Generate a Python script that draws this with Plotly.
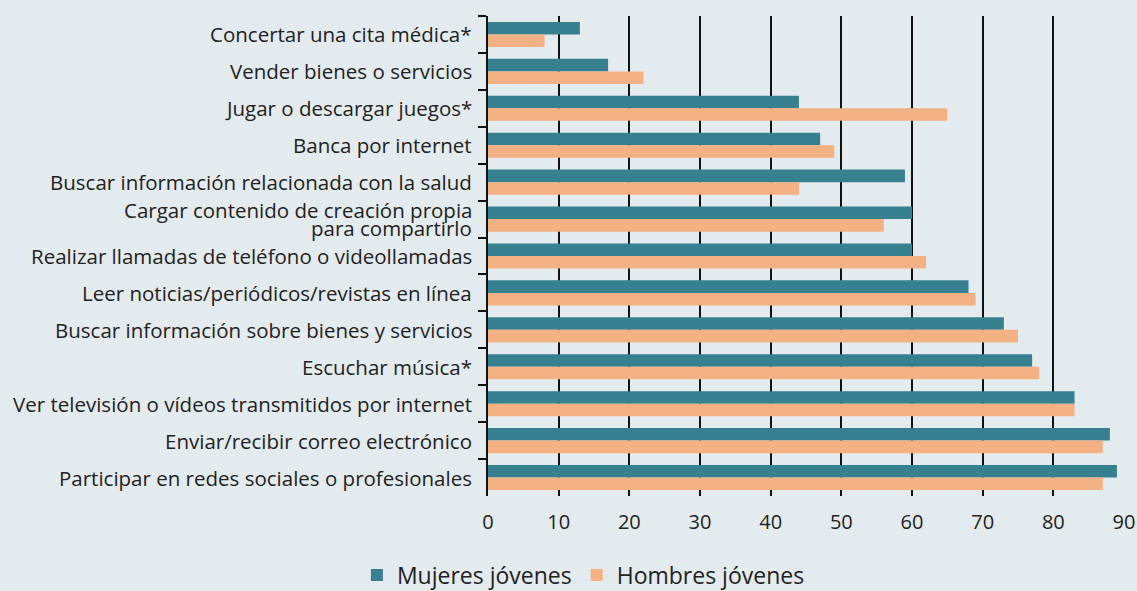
import plotly.graph_objects as go

categories = [
    "Concertar una cita médica*",
    "Vender bienes o servicios",
    "Jugar o descargar juegos*",
    "Banca por internet",
    "Buscar información relacionada con la salud",
    "Cargar contenido de creación propia para compartirlo",
    "Realizar llamadas de teléfono o videollamadas",
    "Leer noticias/periódicos/revistas en línea",
    "Buscar información sobre bienes y servicios",
    "Escuchar música*",
    "Ver televisión o vídeos transmitidos por internet",
    "Enviar/recibir correo electrónico",
    "Participar en redes sociales o profesionales",
]
# label lines as shown in the chart (one category wraps onto two lines)
label_lines = [
    ["Concertar una cita médica*"],
    ["Vender bienes o servicios"],
    ["Jugar o descargar juegos*"],
    ["Banca por internet"],
    ["Buscar información relacionada con la salud"],
    ["Cargar contenido de creación propia", "para compartirlo"],
    ["Realizar llamadas de teléfono o videollamadas"],
    ["Leer noticias/periódicos/revistas en línea"],
    ["Buscar información sobre bienes y servicios"],
    ["Escuchar música*"],
    ["Ver televisión o vídeos transmitidos por internet"],
    ["Enviar/recibir correo electrónico"],
    ["Participar en redes sociales o profesionales"],
]
mujeres = [13, 17, 44, 47, 59, 60, 60, 68, 73, 77, 83, 88, 89]
hombres = [8, 22, 65, 49, 44, 56, 62, 69, 75, 78, 83, 87, 87]
x_ticks = [0, 10, 20, 30, 40, 50, 60, 70, 80, 90]

fig = go.Figure()
fig.add_trace(go.Bar(y=categories, x=mujeres, orientation="h", name="Mujeres jóvenes",
                     marker=dict(color="#37808f", line=dict(width=0))))
fig.add_trace(go.Bar(y=categories, x=hombres, orientation="h", name="Hombres jóvenes",
                     marker=dict(color="#f4b183", line=dict(width=0))))

text_color = "#222222"
for cat, lines in zip(categories, label_lines):
    n = len(lines)
    for i, line in enumerate(lines):
        shift = (-(i - (n - 1) / 2)) * 18
        fig.add_annotation(x=0, xref="paper", xanchor="right", xshift=-14,
                           y=cat, yref="y", yanchor="middle", yshift=shift,
                           text=line, showarrow=False,
                           font=dict(size=20.5, color=text_color))

bg = "#e4ebee"
fig.update_layout(
    width=1137, height=591,
    paper_bgcolor=bg, plot_bgcolor=bg,
    barmode="group", bargap=0.32, bargroupgap=0,
    margin=dict(l=488, r=13, t=16, b=95),
    font=dict(family="Open Sans", size=20, color=text_color),
    legend=dict(orientation="h", x=0.15, xanchor="center",
                yref="container", y=0.027, yanchor="middle",
                font=dict(size=23), traceorder="normal", itemwidth=30),
    xaxis=dict(range=[0, 90], tickvals=x_ticks, showgrid=True, gridcolor="#111111", gridwidth=2,
               zeroline=False, showline=False, ticks="", tickfont=dict(size=20),
               ticklabelstandoff=12, automargin=False),
    yaxis=dict(categoryorder="array", categoryarray=categories, autorange="reversed",
               showline=True, linecolor="#111111", linewidth=2, ticks="outside",
               tickson="boundaries", ticklen=8, tickwidth=2, tickcolor="#111111",
               showgrid=False, showticklabels=False, automargin=False),
)
fig.write_html("out.html", config={"displayModeBar": False},
               post_script="document.body.style.margin='0';document.body.style.overflow='hidden';")
